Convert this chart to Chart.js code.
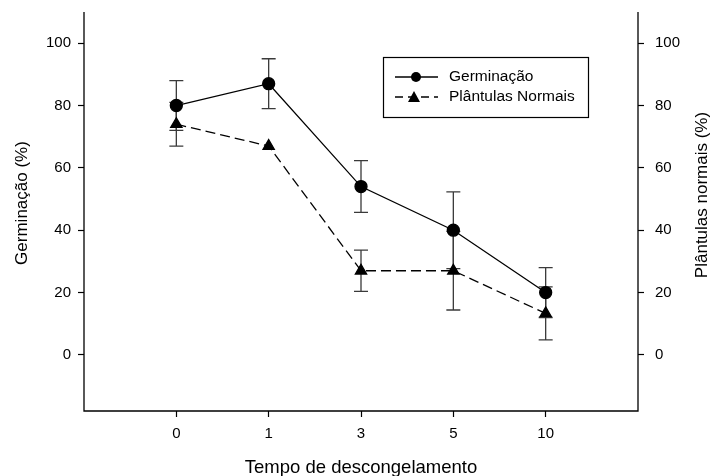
<!DOCTYPE html>
<html>
<head>
<meta charset="utf-8">
<script src="https://cdn.jsdelivr.net/npm/chart.js@4/dist/chart.umd.min.js"></script>
<style>
  html, body { margin: 0; padding: 0; background: #fff; }
  #wrap { width: 712px; height: 476px; position: relative; }
</style>
</head>
<body>
<div id="wrap"><canvas id="chart"></canvas></div>
<script>
const categories = ['0', '1', '3', '5', '10'];
const germinacao = [80, 87, 54, 40, 20];
const germinacaoErr = [8, 8, 8.3, 12.3, 8];
const plantulas = [74, 67, 27, 27, 13.3];
const plantulasErr = [7, 0, 6.6, 12.6, 8.5];
const yTicks = [0, 20, 40, 60, 80, 100];

const FONT = 'Liberation Sans, Arial, sans-serif';

// vertical error bars with caps, drawn under the markers
const errorBars = {
  id: 'errorBars',
  beforeDatasetsDraw(chart) {
    const ctx = chart.ctx;
    const x = chart.scales.x;
    chart.data.datasets.forEach((ds) => {
      const y = chart.scales[ds.yAxisID];
      ctx.save();
      ctx.strokeStyle = '#3a3a3a';
      ctx.lineWidth = 1.3;
      ds.data.forEach((p, i) => {
        const e = ds.errors[i];
        if (!e) return;
        const px = x.getPixelForValue(p.x);
        const top = y.getPixelForValue(p.y + e);
        const bot = y.getPixelForValue(p.y - e);
        ctx.beginPath();
        ctx.moveTo(px, top); ctx.lineTo(px, bot);
        ctx.moveTo(px - 7, top); ctx.lineTo(px + 7, top);
        ctx.moveTo(px - 7, bot); ctx.lineTo(px + 7, bot);
        ctx.stroke();
      });
      ctx.restore();
    });
  }
};

// axis frame (left, bottom, right), axis titles and the boxed legend
const decorations = {
  id: 'decorations',
  afterDraw(chart) {
    const ctx = chart.ctx;
    const a = chart.chartArea;
    ctx.save();
    ctx.fillStyle = '#000';
    ctx.strokeStyle = '#000';
    ctx.lineWidth = 1.3;
    ctx.beginPath();
    ctx.moveTo(a.left, a.top);
    ctx.lineTo(a.left, a.bottom);
    ctx.lineTo(a.right, a.bottom);
    ctx.lineTo(a.right, a.top);
    ctx.stroke();

    ctx.textAlign = 'center';
    ctx.textBaseline = 'alphabetic';
    ctx.font = '18.5px ' + FONT;
    ctx.fillText('Tempo de descongelamento', 361, 473);

    ctx.font = '17px ' + FONT;
    ctx.save();
    ctx.translate(26.5, 203);
    ctx.rotate(-Math.PI / 2);
    ctx.fillText('Germinação (%)', 0, 0);
    ctx.restore();

    ctx.save();
    ctx.translate(706.5, 195);
    ctx.rotate(-Math.PI / 2);
    ctx.fillText('Plântulas normais (%)', 0, 0);
    ctx.restore();

    // legend box
    ctx.lineWidth = 1.2;
    ctx.strokeRect(383.5, 57.5, 205, 60);
    ctx.font = '15.5px ' + FONT;
    ctx.textAlign = 'left';
    ctx.textBaseline = 'middle';

    ctx.lineWidth = 1.3;
    ctx.beginPath();
    ctx.moveTo(395, 77); ctx.lineTo(438, 77);
    ctx.stroke();
    ctx.beginPath();
    ctx.arc(416, 77, 5, 0, Math.PI * 2);
    ctx.fill();
    ctx.fillText(chart.data.datasets[0].label, 449, 77);

    ctx.setLineDash([8, 5]);
    ctx.beginPath();
    ctx.moveTo(395, 97); ctx.lineTo(438, 97);
    ctx.stroke();
    ctx.setLineDash([]);
    ctx.beginPath();
    ctx.moveTo(414, 91); ctx.lineTo(420, 102); ctx.lineTo(408, 102);
    ctx.closePath();
    ctx.fill();
    ctx.fillText(chart.data.datasets[1].label, 449, 97);
    ctx.restore();
  }
};

function yAxis(position, width, pad) {
  return {
    type: 'linear',
    position: position,
    min: -18,
    max: 110,
    afterBuildTicks: (s) => { s.ticks = yTicks.map(v => ({ value: v })); },
    afterFit: (s) => { s.width = width; s.paddingTop = 0; s.paddingBottom = 0; },
    border: { display: false },
    grid: { display: true, drawOnChartArea: false, tickLength: 6, color: '#000', tickWidth: 1.2 },
    ticks: { color: '#000', padding: pad, font: { family: FONT, size: 15 } },
  };
}

new Chart(document.getElementById('chart'), {
  type: 'line',
  data: {
    datasets: [
      {
        label: 'Germinação',
        data: germinacao.map((v, i) => ({ x: i, y: v })),
        errors: germinacaoErr,
        yAxisID: 'y',
        borderColor: '#000',
        backgroundColor: '#000',
        borderWidth: 1.3,
        pointStyle: 'circle',
        pointRadius: 6,
        tension: 0,
      },
      {
        label: 'Plântulas Normais',
        data: plantulas.map((v, i) => ({ x: i, y: v })),
        errors: plantulasErr,
        yAxisID: 'y2',
        borderColor: '#000',
        backgroundColor: '#000',
        borderWidth: 1.3,
        borderDash: [10, 5],
        pointStyle: 'triangle',
        pointRadius: 6.5,
        tension: 0,
      },
    ],
  },
  options: {
    responsive: true,
    maintainAspectRatio: false,
    animation: false,
    layout: { padding: { top: 12, left: 0, right: 0, bottom: 0 } },
    plugins: {
      legend: { display: false },
      tooltip: { enabled: false },
    },
    scales: {
      x: {
        type: 'linear',
        min: -1,
        max: 5,
        afterBuildTicks: (s) => { s.ticks = categories.map((c, i) => ({ value: i })); },
        afterFit: (s) => { s.height = 65; s.paddingLeft = 0; s.paddingRight = 0; },
        border: { display: false },
        grid: { display: true, drawOnChartArea: false, tickLength: 6, tickWidth: 1.2, color: '#000' },
        ticks: {
          color: '#000',
          padding: 8,
          maxRotation: 0,
          font: { family: FONT, size: 15 },
          callback: (v) => categories[v],
        },
      },
      y: yAxis('left', 84, 7),
      y2: yAxis('right', 74, 11),
    },
  },
  plugins: [errorBars, decorations],
});
</script>
</body>
</html>
